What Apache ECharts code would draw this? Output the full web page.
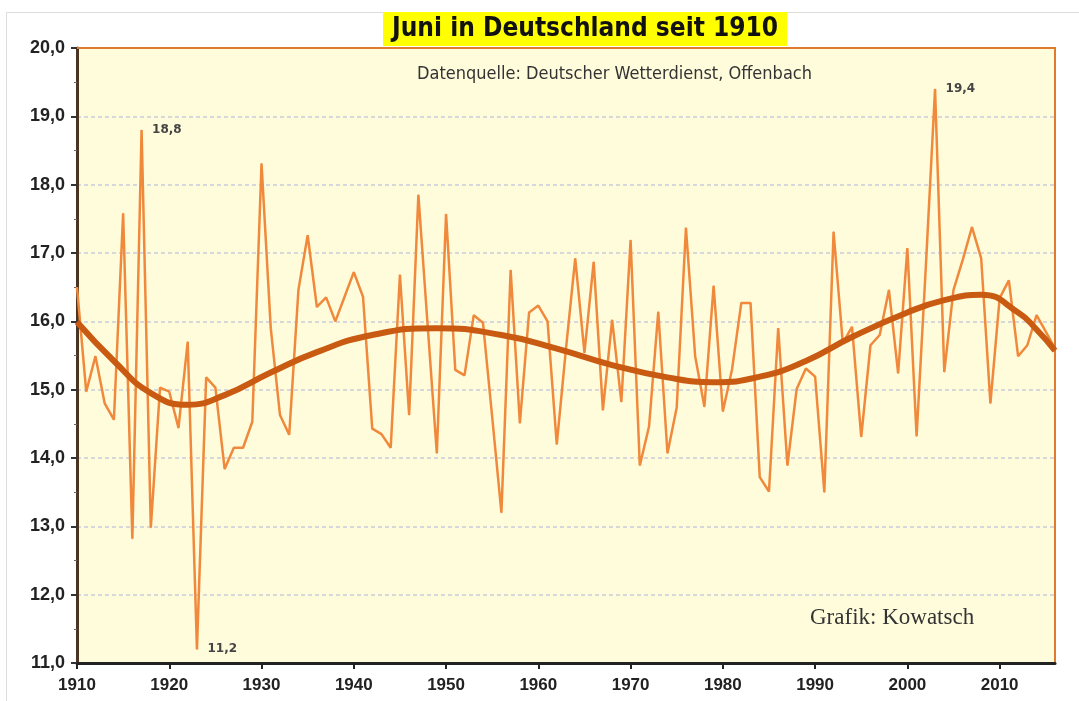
<!DOCTYPE html>
<html>
<head>
<meta charset="utf-8">
<title>Juni in Deutschland seit 1910</title>
<script src="https://cdn.jsdelivr.net/npm/echarts@6/dist/echarts.min.js"></script>
<style>
  html, body { margin: 0; padding: 0; background: #fff; }
  #chart { width: 1079px; height: 701px; }
</style>
</head>
<body>
<div id="chart"></div>
<script>
// Juni-Mitteltemperatur (°C), 1910 - 2016
const years = [
  1910, 1911, 1912, 1913, 1914, 1915, 1916, 1917, 1918, 1919,
  1920, 1921, 1922, 1923, 1924, 1925, 1926, 1927, 1928, 1929,
  1930, 1931, 1932, 1933, 1934, 1935, 1936, 1937, 1938, 1939,
  1940, 1941, 1942, 1943, 1944, 1945, 1946, 1947, 1948, 1949,
  1950, 1951, 1952, 1953, 1954, 1955, 1956, 1957, 1958, 1959,
  1960, 1961, 1962, 1963, 1964, 1965, 1966, 1967, 1968, 1969,
  1970, 1971, 1972, 1973, 1974, 1975, 1976, 1977, 1978, 1979,
  1980, 1981, 1982, 1983, 1984, 1985, 1986, 1987, 1988, 1989,
  1990, 1991, 1992, 1993, 1994, 1995, 1996, 1997, 1998, 1999,
  2000, 2001, 2002, 2003, 2004, 2005, 2006, 2007, 2008, 2009,
  2010, 2011, 2012, 2013, 2014, 2015, 2016
]
const temps = [
  16.5, 14.97, 15.49, 14.8, 14.56, 17.58, 12.82, 18.8, 12.98, 15.03,
  14.97, 14.44, 15.7, 11.2, 15.18, 15.03, 13.84, 14.15, 14.15, 14.53,
  18.31, 15.9, 14.63, 14.34, 16.46, 17.26, 16.21, 16.35, 16.0, 16.36,
  16.72, 16.36, 14.43, 14.35, 14.15, 16.68, 14.63, 17.85, 15.95, 14.07,
  17.57, 15.29, 15.21, 16.09, 15.98, 14.6, 13.2, 16.75, 14.51, 16.13,
  16.23, 16.0, 14.2, 15.6, 16.92, 15.54, 16.87, 14.7, 16.02, 14.82,
  17.19, 13.89, 14.46, 16.14, 14.07, 14.74, 17.37, 15.49, 14.75, 16.52,
  14.68, 15.3, 16.27, 16.27, 13.72, 13.51, 15.9, 13.89, 15.01, 15.31,
  15.19, 13.5, 17.31, 15.68, 15.92, 14.31, 15.65, 15.8, 16.46, 15.24,
  17.07, 14.32, 16.8, 19.4, 15.26, 16.46, 16.9, 17.38, 16.92, 14.8,
  16.34, 16.6, 15.49, 15.65, 16.09, 15.85, 15.6
]

// Trendlinie (Polynom)
const trendYears = [1910, 1914, 1918, 1922, 1926, 1931, 1936, 1942, 1949, 1956, 1962, 1968,
  1974, 1979, 1984, 1989, 1994, 2000, 2004, 2008, 2012, 2014, 2016]
const trendValues = [15.99, 15.42, 14.95, 14.78, 14.92, 15.25, 15.55, 15.80, 15.90, 15.80, 15.60, 15.36,
  15.18, 15.11, 15.19, 15.42, 15.77, 16.13, 16.31, 16.39, 16.13, 15.88, 15.57]

// beschriftete Extremwerte
const labelYears = [1917, 1923, 2003]

const yTicks = [11, 12, 13, 14, 15, 16, 17, 18, 19, 20]

const fmtComma = (v) => v.toFixed(1).replace('.', ',')

const tempData = years.map((y, i) => {
  if (labelYears.includes(y)) {
    return {
      value: [y, temps[i]],
      label: {
        show: true,
        position: 'right',
        distance: 10,
        formatter: fmtComma(temps[i]),
        color: '#444',
        fontSize: 12,
        fontWeight: 'bold',
        fontFamily: 'DejaVu Sans'
      }
    }
  }
  return [y, temps[i]]
})

const trendData = trendYears.map((y, i) => [y, trendValues[i]])

const chart = echarts.init(document.getElementById('chart'))

const option = {
  backgroundColor: '#fff',
  animation: false,
  title: [
    {
      text: 'Juni in Deutschland seit 1910',
      left: 383,
      top: 12,
      padding: [4, 9, 4, 9],
      backgroundColor: '#ffff00',
      textStyle: {
        fontSize: 26,
        fontWeight: 'bold',
        color: '#111',
        fontFamily: "'Liberation Sans Narrow', 'DejaVu Sans Condensed', sans-serif"
      }
    },
    {
      text: 'Datenquelle: Deutscher Wetterdienst, Offenbach',
      left: 417,
      top: 65,
      padding: 0,
      textStyle: {
        fontSize: 18,
        fontWeight: 'normal',
        color: '#333',
        fontFamily: "'Liberation Sans Narrow', 'DejaVu Sans Condensed', sans-serif"
      }
    },
    {
      text: 'Grafik: Kowatsch',
      left: 810,
      top: 606,
      padding: 0,
      textStyle: {
        fontSize: 23,
        fontWeight: 'normal',
        color: '#333',
        fontFamily: "'Liberation Serif', 'DejaVu Serif', serif"
      }
    }
  ],
  grid: {
    left: 77,
    right: 24,
    top: 48,
    bottom: 38,
    show: true,
    backgroundColor: '#fffcdc',
    borderColor: '#e07a2c',
    borderWidth: 2
  },
  xAxis: {
    type: 'value',
    min: 1910,
    max: 2016,
    interval: 10,
    axisLine: { show: true, lineStyle: { color: '#222', width: 3 } },
    axisTick: { show: true, length: 6, lineStyle: { color: '#222', width: 2 } },
    splitLine: { show: false },
    axisLabel: {
      margin: 14,
      color: '#222',
      fontSize: 17,
      fontWeight: 'bold',
      fontFamily: 'Liberation Sans, Arial, sans-serif',
      showMaxLabel: false,
      formatter: (v) => (v % 10 === 0 ? String(v) : '')
    }
  },
  yAxis: {
    type: 'value',
    min: yTicks[0],
    max: yTicks[yTicks.length - 1],
    interval: 1,
    axisLine: { show: true, lineStyle: { color: '#4a3522', width: 3 } },
    axisTick: { show: true, length: 6, lineStyle: { color: '#333', width: 2 } },
    minorTick: { show: true, splitNumber: 2, length: 3, lineStyle: { color: '#666' } },
    splitLine: {
      show: true,
      lineStyle: { color: '#c9ccd9', width: 1.5, type: [4, 3] }
    },
    axisLabel: {
      margin: 12,
      color: '#222',
      fontSize: 18,
      fontWeight: 'bold',
      fontFamily: 'Liberation Sans, Arial, sans-serif',
      formatter: (v) => fmtComma(v)
    }
  },
  series: [
    {
      name: 'Juni',
      type: 'line',
      data: tempData,
      symbol: 'circle',
      symbolSize: 1,
      showSymbol: true,
      showAllSymbol: true,
      itemStyle: { color: '#f0893c' },
      lineStyle: { color: '#f0893c', width: 2.5 },
      z: 3
    },
    {
      name: 'Trend',
      type: 'line',
      data: trendData,
      symbol: 'none',
      smooth: 0.5,
      lineStyle: { color: '#c95a12', width: 6 },
      z: 4
    }
  ],
  graphic: [
    {
      type: 'rect',
      left: 4,
      top: 10,
      shape: { width: 1074, height: 690 },
      style: { fill: 'none', stroke: '#dcdcdc', lineWidth: 1 },
      z: -10
    },
    // obere Rahmenlinie über der Gitterlinie 20,0
    {
      type: 'line',
      shape: { x1: 77, y1: 48, x2: 1055, y2: 48 },
      style: { stroke: '#e07a2c', lineWidth: 2 },
      z: 10
    }
  ]
}

chart.setOption(option)
</script>
</body>
</html>
